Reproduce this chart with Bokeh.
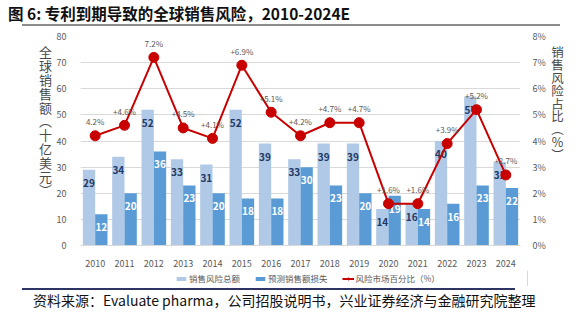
from bokeh.plotting import figure
from bokeh.models import (FactorRange, Range1d, LinearAxis, Legend, LegendItem, Div,
                          PrintfTickFormatter, ColumnDataSource, FixedTicker)
from bokeh.transform import dodge
from bokeh.layouts import column, row
from bokeh.core.properties import value
from bokeh.embed import file_html
from bokeh.resources import INLINE

years = ["2010", "2011", "2012", "2013", "2014", "2015", "2016", "2017",
         "2018", "2019", "2020", "2021", "2022", "2023", "2024"]
total_risk = [29, 34, 52, 33, 31, 52, 39, 33, 39, 39, 14, 16, 40, 57, 32]
loss = [12, 20, 36, 23, 20, 18, 18, 30, 23, 20, 19, 14, 16, 23, 22]
pct = [4.2, 4.6, 7.2, 4.5, 4.1, 6.9, 5.1, 4.2, 4.7, 4.7, 1.6, 1.6, 3.9, 5.2, 2.7]
pct_labels = ["4.2%", "+4.6%", "7.2%", "+4.5%", "+4.1%", "+6.9%", "+5.1%", "+4.2%",
              "+4.7%", "+4.7%", "+1.6%", "+1.6%", "+3.9%", "+5.2%", "+2.7%"]

title_text = "图 6: 专利到期导致的全球销售风险，2010-2024E"
source_text = "资料来源：Evaluate pharma，公司招股说明书，兴业证券经济与金融研究院整理"
left_title = "全球销售额（十亿美元）"
right_title = "销售风险占比（%）"
legend_names = ["销售风险总额", "预测销售额损失", "风险市场百分比（%）"]

CJK = "Noto Sans CJK SC"
W = 581
ROW_H = 242
LEFT_W = 53
RIGHT_W = 33
light = "#AFC9E7"
dark = "#5B9BD5"
red = "#C80000"

# ---------- title (HTML) ----------
title_div = Div(width=W, height=28, margin=(0, 0, 0, 0), text=(
    '<div style="position:relative;width:581px;height:28px;">'
    '<div style="position:absolute;left:8px;top:3px;white-space:nowrap;'
    "font-family:'Noto Sans CJK SC';font-weight:bold;font-size:15.5px;line-height:20px;"
    'color:#111;">' + title_text + '</div>'
    '<div style="position:absolute;left:22px;top:24px;width:538px;height:2px;'
    'background:#8C8C8C;"></div></div>'))


def vdiv(width, left, fs, ls, txt):
    return Div(width=width, height=ROW_H, margin=(0, 0, 0, 0), text=(
        '<div style="position:relative;width:%dpx;height:%dpx;">' % (width, ROW_H) +
        '<div style="position:absolute;left:%dpx;top:18px;writing-mode:vertical-rl;'
        'text-orientation:upright;white-space:nowrap;'
        "font-family:'Noto Sans CJK SC';font-size:%s;line-height:14px;"
        'letter-spacing:%s;color:#4A4A4A;">' % (left, fs, ls) + txt + '</div></div>'))


left_div = vdiv(LEFT_W, 38, "13px", "0.8px", left_title)
right_div = vdiv(RIGHT_W, 2, "12.5px", "0.4px", right_title)

# ---------- main chart ----------
src = ColumnDataSource(dict(year=years, total=total_risk, loss=loss, pct=pct,
                            pct_lab=pct_labels,
                            total_lab=[str(v) for v in total_risk],
                            loss_lab=[str(v) for v in loss]))

p = figure(width=W - LEFT_W - RIGHT_W, height=ROW_H, x_range=FactorRange(*years),
           y_range=Range1d(0, 80), output_backend="svg", toolbar_location=None,
           min_border_left=22, min_border_right=21, min_border_top=8, min_border_bottom=25)
p.extra_y_ranges = {"pct": Range1d(0, 8)}
p.outline_line_color = None
p.xgrid.grid_line_color = None
p.ygrid.grid_line_color = "#D9D9D9"
p.ygrid.ticker = FixedTicker(ticks=list(range(0, 81, 10)))

p.yaxis.ticker = FixedTicker(ticks=list(range(0, 81, 10)))
for ax in [p.xaxis[0], p.yaxis[0]]:
    ax.major_tick_line_color = None
    ax.minor_tick_line_color = None
    ax.major_label_text_font = CJK
    ax.major_label_text_font_size = "9px"
    ax.major_label_text_color = "#595959"
p.yaxis.axis_line_color = None
p.yaxis.major_label_standoff = 8
p.xaxis.axis_line_color = "#D9D9D9"
p.xaxis.major_label_standoff = 8

ra = LinearAxis(y_range_name="pct", ticker=FixedTicker(ticks=list(range(0, 9))),
                formatter=PrintfTickFormatter(format="%d%%"))
ra.axis_line_color = None
ra.major_tick_line_color = None
ra.minor_tick_line_color = None
ra.major_label_text_font = CJK
ra.major_label_text_font_size = "9px"
ra.major_label_text_color = "#595959"
ra.major_label_standoff = 6
p.add_layout(ra, "right")

p.vbar(x=dodge("year", -0.21, range=p.x_range), top="total", width=0.42,
       source=src, fill_color=light, line_color=None)
p.vbar(x=dodge("year", 0.21, range=p.x_range), top="loss", width=0.42,
       source=src, fill_color=dark, line_color=None)

p.text(x=dodge("year", -0.21, range=p.x_range), y="total", text="total_lab", source=src,
       text_align="center", text_baseline="middle", y_offset=13,
       text_font=value(CJK), text_font_size="10px", text_font_style="bold",
       text_color="#1F3864")
p.text(x=dodge("year", 0.21, range=p.x_range), y="loss", text="loss_lab", source=src,
       text_align="center", text_baseline="middle", y_offset=13,
       text_font=value(CJK), text_font_size="10px", text_font_style="bold",
       text_color="#FFFFFF")

p.line(x="year", y="pct", source=src, y_range_name="pct", line_color=red, line_width=2)
p.scatter(x="year", y="pct", source=src, y_range_name="pct", size=10,
          fill_color=red, line_color=red)
p.text(x="year", y="pct", text="pct_lab", source=src, y_range_name="pct",
       text_align="center", text_baseline="middle", y_offset=-14,
       text_font=value(CJK), text_font_size="8px", text_color="#595959")

# ---------- legend strip (same frame as the chart) ----------
lg = figure(width=W, height=16, x_range=(0, 1), y_range=(0, 1),
            output_backend="svg", toolbar_location=None,
            min_border_left=LEFT_W + 22, min_border_right=RIGHT_W + 21,
            min_border_top=0, min_border_bottom=0)
lg.axis.visible = False
lg.grid.visible = False
lg.outline_line_color = None
# off-frame keys: only their legend swatches are seen
k1 = lg.vbar(x=[9], top=[1], width=0.1, fill_color=light, line_color=None)
k2 = lg.vbar(x=[9], top=[1], width=0.1, fill_color=dark, line_color=None)
k3 = lg.line(x=[9, 10], y=[1, 1], line_color=red, line_width=2)
k4 = lg.scatter(x=[9], y=[1], size=7, fill_color=red, line_color=red)
legend = Legend(items=[LegendItem(label=legend_names[0], renderers=[k1]),
                       LegendItem(label=legend_names[1], renderers=[k2]),
                       LegendItem(label=legend_names[2], renderers=[k3, k4])],
                orientation="horizontal", location=(100, 2),
                label_text_font=CJK, label_text_font_size="8.5px", label_text_color="#595959",
                label_height=12, glyph_width=12, glyph_height=5, label_standoff=2, spacing=14,
                background_fill_alpha=0, border_line_color=None, padding=0, margin=0)
lg.add_layout(legend, "center")

# ---------- footer (HTML) ----------
footer_div = Div(width=W, height=37, margin=(0, 0, 0, 0), text=(
    '<div style="position:relative;width:581px;height:37px;">'
    '<div style="position:absolute;left:22px;top:2px;width:493px;height:2px;'
    'background:#2E3565;"></div>'
    '<div style="position:absolute;left:33px;top:5px;white-space:nowrap;'
    "font-family:'Noto Sans CJK SC';font-size:14px;line-height:18px;color:#111;\">"
    + source_text + '</div></div>'))

layout = column(title_div, row(left_div, p, right_div, spacing=0), lg, footer_div, spacing=0)
open("out.html", "w").write(file_html(layout, INLINE))
